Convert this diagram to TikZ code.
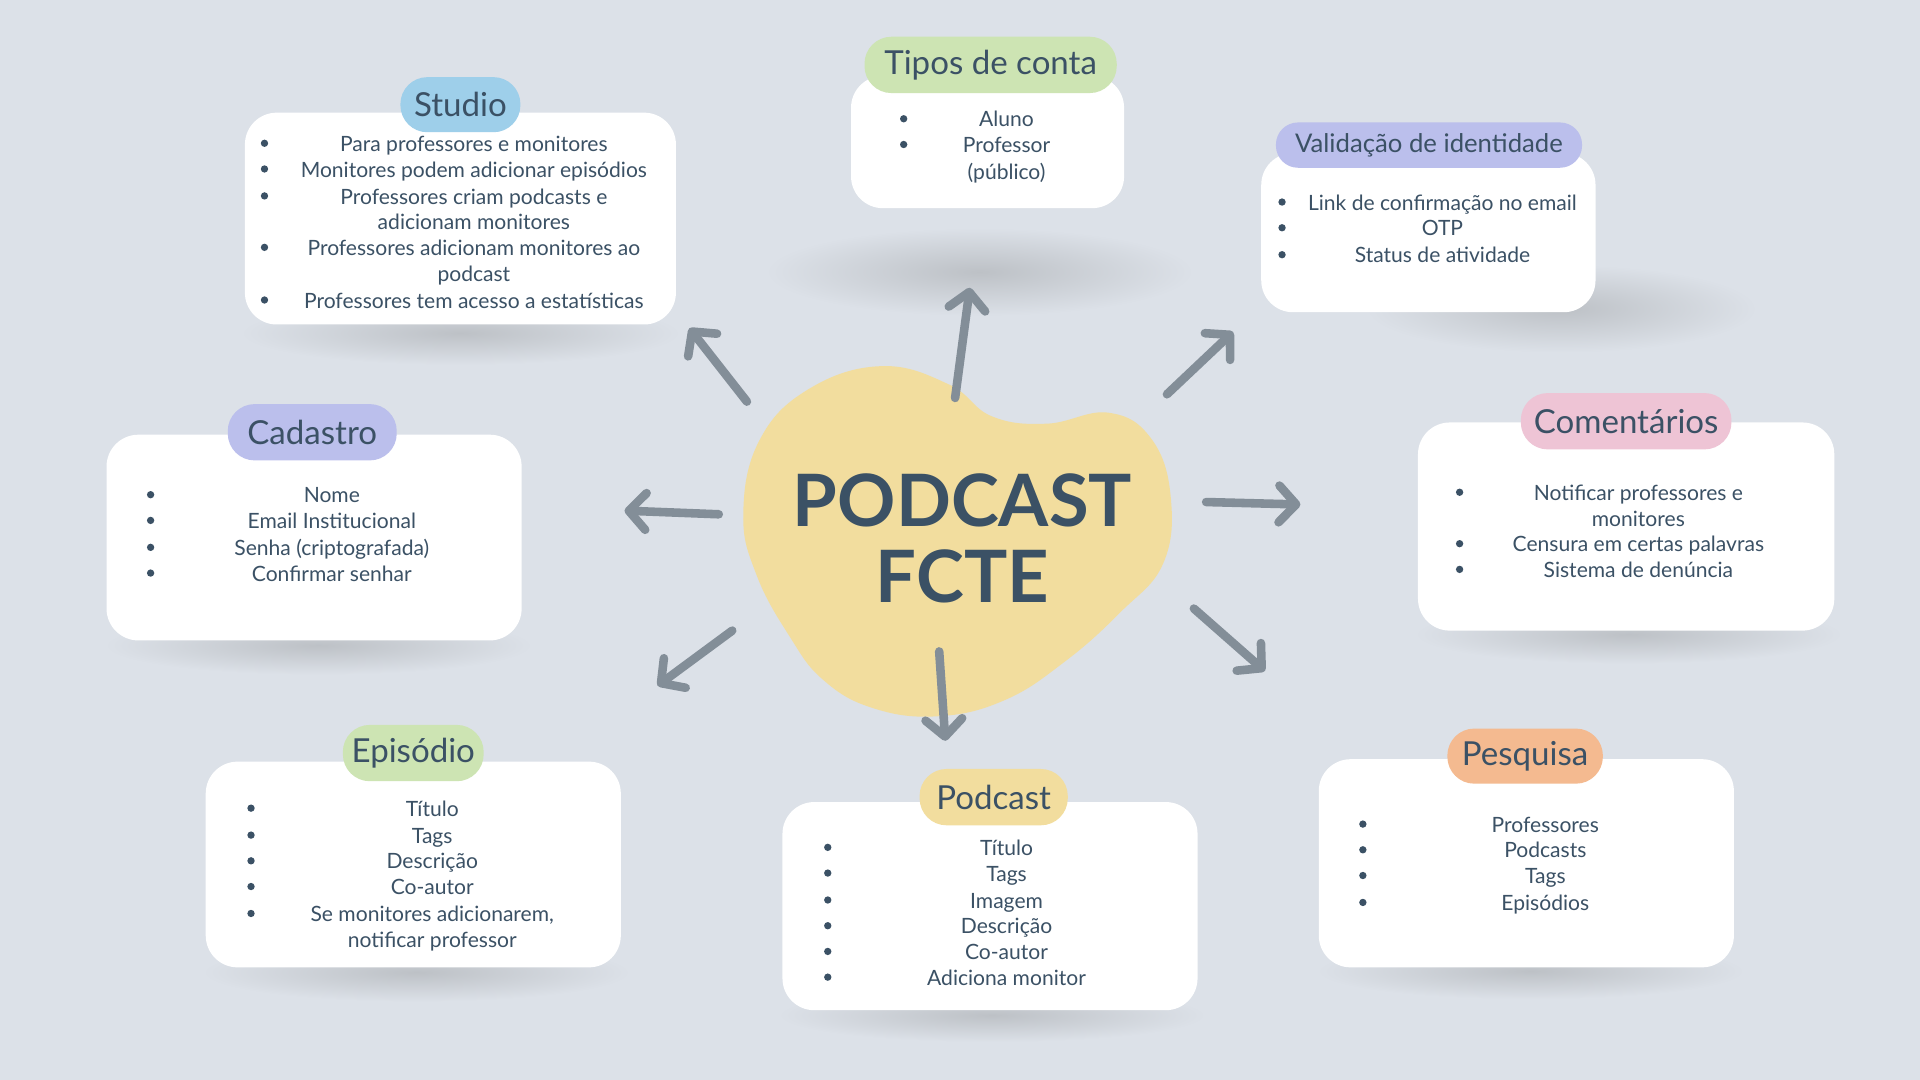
\documentclass[tikz,border=0pt]{standalone}
\usepackage{fontspec}
\setmainfont{Lato}
\usetikzlibrary{arrows.meta}

\definecolor{fundo}{HTML}{DCE1E8}
\definecolor{texto}{HTML}{3B5165}
\definecolor{seta}{HTML}{838E98}
\definecolor{sombra}{HTML}{BDC1C6}
\definecolor{amarelo}{HTML}{F2DD9E}
\definecolor{azul}{HTML}{9ECFEA}
\definecolor{verde}{HTML}{CDE4B3}
\definecolor{lilas}{HTML}{BBBFEC}
\definecolor{rosa}{HTML}{EEC4D5}
\definecolor{pessego}{HTML}{F4BA90}

\pgfdeclareradialshading{sombraesc}{\pgfpoint{0bp}{0bp}}{color(0bp)=(sombra); color(25bp)=(fundo); color(50bp)=(fundo)}

\tikzset{
  cartao/.style={fill=white, rounded corners=13pt, inner sep=0pt},
  etiqueta/.style={rounded corners=11pt, inner sep=0pt, text=texto, font=\fontsize{13.5}{16}\selectfont},
  item/.style={anchor=mid, inner sep=0pt, yshift=-0.8pt, text=texto, font=\fontsize{8.6}{10}\selectfont},
  seta/.style={->, line width=3.5pt, color=seta},
}

\begin{document}
\begin{tikzpicture}[x=0.5pt, y=-0.5pt, line cap=round, line join=round, >={Straight Barb[length=7pt,width=15pt,round]}]
    \useasboundingbox (0,0) rectangle (1568,882);
    \fill[fundo] (0,0) rectangle (1568,882);
    % sombras
    \shade[shading=sombraesc] (376,272) ellipse (180 and 26);
    \shade[shading=sombraesc] (800,222) ellipse (175 and 36);
    \shade[shading=sombraesc] (1275,252) ellipse (160 and 36);
    \shade[shading=sombraesc] (260,527) ellipse (175 and 24);
    \shade[shading=sombraesc] (1330,518) ellipse (175 and 24);
    \shade[shading=sombraesc] (340,794) ellipse (175 and 24);
    \shade[shading=sombraesc] (810,829) ellipse (175 and 22);
    \shade[shading=sombraesc] (1250,793) ellipse (175 and 23);
    % centro
    \fill[amarelo] plot[smooth cycle, tension=0.7] coordinates {(720,299) (775,314) (810,340) (855,346) (905,337) (940,358) (956,405) (950,460) (915,500) (870,540) (820,572) (765,585) (712,578) (672,555) (645,520) (618,470) (607,420) (620,360) (660,318)};
    \node[text=texto, align=center, font=\fontsize{29.5}{31}\bfseries] (hub) at (786,440) {PODCAST\\FCTE};
    % setas
    \foreach \a/\b/\c/\d [count=\i] in {610/328/563/268, 780/325/792/235, 953/322/1007/271, 587/420/510/417, 985/410/1062/412, 598/515/537/560, 767/532/772/605, 975/497/1033/548}
    {
      \coordinate (de\i) at (\a,\b);
      \coordinate (para\i) at (\c,\d);
      \draw[seta] (de\i) -- (para\i);
    }
    % Studio
    \node[cartao, minimum width=176pt, minimum height=86.5pt] (studio) at (376,178.5) {};
    \node[etiqueta, fill=azul, minimum width=49pt, minimum height=22.5pt] (studio-t) at (376,85.5) {Studio};
    \foreach \yy/\txt [count=\i] in {117/Para professores e monitores, 138/Monitores podem adicionar episódios, 160/Professores criam podcasts e, 181/adicionam monitores, 202/Professores adicionam monitores ao, 223/podcast, 245/Professores tem acesso a estatísticas}
    \node[item] (studio-l\i) at (387,\yy) {\txt};
    \foreach \yy in {117,138,160,202,245}
    \fill[texto] (216,\yy) circle (1.5pt);
    % Tipos de conta
    \node[cartao, minimum width=111.5pt, minimum height=54pt] (tipos) at (806.5,116) {};
    \node[etiqueta, fill=verde, minimum width=103pt, minimum height=23pt] (tipos-t) at (809,53) {Tipos de conta};
    \foreach \yy/\txt [count=\i] in {97/Aluno, 118/Professor, 140/(público)}
    \node[item] (tipos-l\i) at (822,\yy) {\txt};
    \foreach \yy in {97,118}
    \fill[texto] (738,\yy) circle (1.5pt);
    % Validacao
    \node[cartao, minimum width=136.5pt, minimum height=65pt] (valida) at (1166.5,190) {};
    \node[etiqueta, fill=lilas, rounded corners=9pt, minimum width=125pt, minimum height=18.5pt, font=\fontsize{10.5}{12}\selectfont] (valida-t) at (1167,118.5) {Validação de identidade};
    \foreach \yy/\txt [count=\i] in {165/Link de confirmação no email, 186/OTP, 208/Status de atividade}
    \node[item] (valida-l\i) at (1178,\yy) {\txt};
    \foreach \yy in {165,186,208}
    \fill[texto] (1047,\yy) circle (1.5pt);
    % Cadastro
    \node[cartao, minimum width=169.5pt, minimum height=84pt] (cadastro) at (256.5,439) {};
    \node[etiqueta, fill=lilas, minimum width=69pt, minimum height=23pt] (cadastro-t) at (255,353) {Cadastro};
    \foreach \yy/\txt [count=\i] in {404/Nome, 425/Email Institucional, 447/Senha (criptografada), 468/Confirmar senhar}
    \node[item] (cadastro-l\i) at (271,\yy) {\txt};
    \foreach \yy in {404,425,447,468}
    \fill[texto] (123,\yy) circle (1.5pt);
    % Comentarios
    \node[cartao, minimum width=170pt, minimum height=85pt] (coment) at (1328,430) {};
    \node[etiqueta, fill=rosa, minimum width=86pt, minimum height=23pt] (coment-t) at (1328,344) {Comentários};
    \foreach \yy/\txt [count=\i] in {402/Notificar professores e, 423/monitores, 444/Censura em certas palavras, 465/Sistema de denúncia}
    \node[item] (coment-l\i) at (1338,\yy) {\txt};
    \foreach \yy in {402,444,465}
    \fill[texto] (1192,\yy) circle (1.5pt);
    % Episodio
    \node[cartao, minimum width=169.5pt, minimum height=84pt] (episodio) at (337.5,706) {};
    \node[etiqueta, fill=verde, minimum width=57.5pt, minimum height=23pt] (episodio-t) at (337.5,615) {Episódio};
    \foreach \yy/\txt [count=\i] in {660/Título, 682/Tags, 703/Descrição, 724/Co-autor, 746/{Se monitores adicionarem,}, 767/notificar professor}
    \node[item] (episodio-l\i) at (353,\yy) {\txt};
    \foreach \yy in {660,682,703,724,746}
    \fill[texto] (205,\yy) circle (1.5pt);
    % Podcast
    \node[cartao, minimum width=169.5pt, minimum height=85pt] (podcast) at (808.5,740) {};
    \node[etiqueta, fill=amarelo, minimum width=60.5pt, minimum height=23pt] (podcast-t) at (811.5,651) {Podcast};
    \foreach \yy/\txt [count=\i] in {692/Título, 713/Tags, 735/Imagem, 756/Descrição, 777/Co-autor, 798/Adiciona monitor}
    \node[item] (podcast-l\i) at (822,\yy) {\txt};
    \foreach \yy in {692,713,735,756,777,798}
    \fill[texto] (676,\yy) circle (1.5pt);
    % Pesquisa
    \node[cartao, minimum width=169.5pt, minimum height=85pt] (pesquisa) at (1246.5,705) {};
    \node[etiqueta, fill=pessego, minimum width=63.5pt, minimum height=22.5pt] (pesquisa-t) at (1245.5,617.5) {Pesquisa};
    \foreach \yy/\txt [count=\i] in {673/Professores, 694/Podcasts, 715/Tags, 737/Episódios}
    \node[item] (pesquisa-l\i) at (1262,\yy) {\txt};
    \foreach \yy in {673,694,715,737}
    \fill[texto] (1113,\yy) circle (1.5pt);
\end{tikzpicture}
\end{document}
